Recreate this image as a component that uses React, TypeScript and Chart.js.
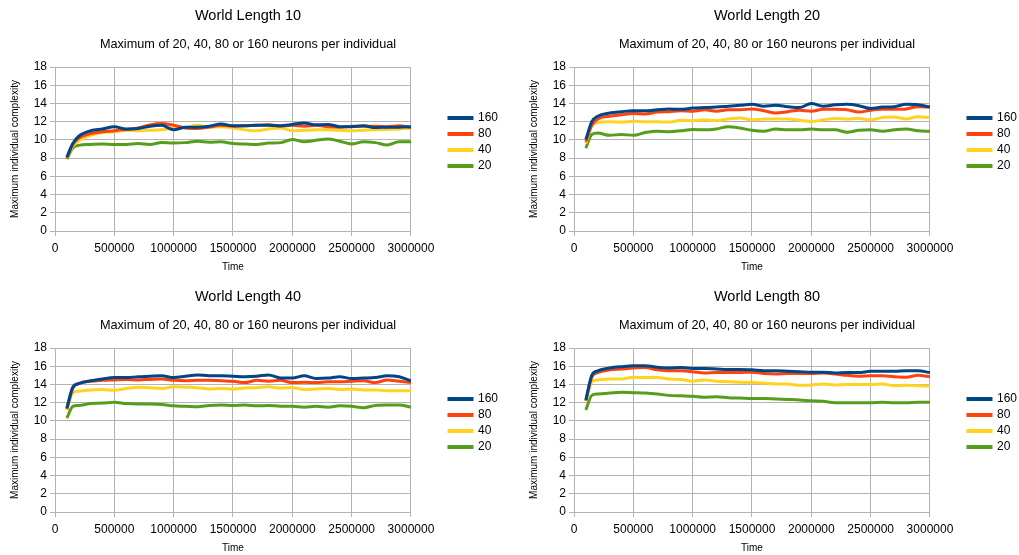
import React, { useEffect, useRef } from "react";
import { Chart, registerables } from "chart.js";

Chart.register(...registerables);

// ---------- data ----------
const TIMES = [
  100000, 150000, 200000, 300000, 400000, 500000, 600000, 700000, 800000, 900000,
  1000000, 1100000, 1200000, 1300000, 1400000, 1500000, 1600000, 1700000, 1800000,
  1900000, 2000000, 2100000, 2200000, 2300000, 2400000, 2500000, 2600000, 2700000,
  2800000, 2900000, 3000000,
];

const SERIES_LABELS = ["160", "80", "40", "20"];
const SERIES_COLORS = ["#004586", "#ff420e", "#ffd320", "#579d1c"];
const PANEL_TITLES = ["World Length 10", "World Length 20", "World Length 40", "World Length 80"];
const SUBTITLE = "Maximum of 20, 40, 80 or 160 neurons per individual";
const X_AXIS_TITLE = "Time";
const Y_AXIS_TITLE = "Maximum individual complexity";

// World Length 10
const WL10_160 = [8.1, 9.6, 10.4, 11.0, 11.2, 11.45, 11.2, 11.25, 11.5, 11.6, 11.1, 11.4, 11.4, 11.5, 11.75, 11.55, 11.55, 11.6, 11.6, 11.55, 11.7, 11.85, 11.65, 11.7, 11.45, 11.45, 11.55, 11.35, 11.4, 11.4, 11.45];
const WL10_80 = [8.0, 9.5, 10.2, 10.7, 10.9, 11.0, 11.15, 11.3, 11.65, 11.8, 11.6, 11.3, 11.25, 11.4, 11.6, 11.5, 11.55, 11.6, 11.65, 11.5, 11.6, 11.5, 11.6, 11.45, 11.4, 11.5, 11.5, 11.5, 11.45, 11.55, 11.35];
const WL10_40 = [8.0, 9.3, 9.9, 10.5, 10.8, 10.9, 11.05, 11.0, 11.05, 11.1, 11.3, 11.35, 11.6, 11.4, 11.45, 11.3, 11.1, 11.0, 11.2, 11.3, 11.0, 11.05, 11.1, 11.1, 11.05, 11.0, 11.05, 11.1, 11.15, 11.2, 11.3];
const WL10_20 = [7.9, 9.1, 9.4, 9.5, 9.55, 9.5, 9.5, 9.6, 9.5, 9.7, 9.65, 9.7, 9.85, 9.75, 9.8, 9.6, 9.55, 9.5, 9.65, 9.7, 10.05, 9.8, 9.95, 10.1, 9.85, 9.55, 9.8, 9.7, 9.45, 9.8, 9.8];

// World Length 20
const WL20_160 = [10.05, 12.0, 12.6, 12.95, 13.1, 13.2, 13.2, 13.3, 13.4, 13.35, 13.5, 13.55, 13.6, 13.7, 13.8, 13.9, 13.7, 13.8, 13.65, 13.55, 14.0, 13.7, 13.85, 13.9, 13.75, 13.45, 13.6, 13.65, 13.9, 13.85, 13.6];
const WL20_80 = [9.8, 11.6, 12.3, 12.6, 12.75, 12.9, 12.85, 13.05, 13.1, 13.2, 13.15, 13.3, 13.15, 13.3, 13.3, 13.4, 13.2, 12.95, 13.1, 13.25, 13.15, 13.35, 13.35, 13.3, 13.05, 13.25, 13.35, 13.35, 13.4, 13.65, 13.6];
const WL20_40 = [9.6, 11.6, 11.9, 12.0, 11.95, 12.05, 12.0, 12.0, 11.95, 12.15, 12.1, 12.2, 12.1, 12.3, 12.4, 12.2, 12.3, 12.3, 12.3, 12.15, 12.0, 12.2, 12.35, 12.3, 12.35, 12.2, 12.45, 12.5, 12.3, 12.55, 12.45];
const WL20_20 = [9.1, 10.6, 10.75, 10.5, 10.6, 10.5, 10.8, 10.95, 10.9, 11.0, 11.15, 11.1, 11.2, 11.45, 11.3, 11.05, 10.95, 11.2, 11.1, 11.1, 11.2, 11.1, 11.1, 10.85, 11.05, 11.1, 10.95, 11.1, 11.2, 11.0, 10.95];

// World Length 40
const WL40_160 = [11.4, 13.7, 14.1, 14.4, 14.6, 14.75, 14.75, 14.85, 14.9, 14.95, 14.75, 14.9, 15.05, 14.95, 14.95, 14.9, 14.85, 14.9, 15.05, 14.7, 14.7, 14.95, 14.65, 14.7, 14.85, 14.65, 14.7, 14.75, 14.95, 14.85, 14.4];
const WL40_80 = [11.3, 13.6, 14.1, 14.35, 14.45, 14.5, 14.55, 14.5, 14.55, 14.6, 14.45, 14.4, 14.45, 14.45, 14.4, 14.35, 14.2, 14.45, 14.35, 14.45, 14.2, 14.25, 14.2, 14.3, 14.3, 14.35, 14.4, 14.2, 14.5, 14.35, 14.2];
const WL40_40 = [11.2, 13.1, 13.25, 13.4, 13.45, 13.35, 13.55, 13.7, 13.65, 13.55, 13.75, 13.7, 13.65, 13.5, 13.55, 13.5, 13.6, 13.65, 13.75, 13.6, 13.65, 13.45, 13.5, 13.55, 13.45, 13.5, 13.4, 13.4, 13.3, 13.3, 13.3];
const WL40_20 = [10.3, 11.6, 11.7, 11.9, 11.95, 12.05, 11.9, 11.85, 11.85, 11.8, 11.65, 11.6, 11.55, 11.7, 11.75, 11.7, 11.75, 11.65, 11.7, 11.6, 11.6, 11.5, 11.6, 11.5, 11.65, 11.6, 11.45, 11.7, 11.75, 11.75, 11.5];

// World Length 80
const WL80_160 = [12.3, 15.0, 15.5, 15.8, 15.95, 16.05, 16.05, 15.9, 15.8, 15.85, 15.75, 15.75, 15.7, 15.65, 15.65, 15.6, 15.5, 15.5, 15.45, 15.4, 15.35, 15.35, 15.25, 15.3, 15.3, 15.45, 15.45, 15.45, 15.5, 15.5, 15.3];
const WL80_80 = [12.2, 14.8, 15.3, 15.6, 15.7, 15.8, 15.85, 15.6, 15.5, 15.5, 15.4, 15.25, 15.3, 15.3, 15.3, 15.35, 15.2, 15.15, 15.2, 15.2, 15.2, 15.25, 15.15, 15.0, 14.9, 14.95, 14.95, 14.85, 14.8, 15.0, 14.85];
const WL80_40 = [12.2, 14.3, 14.5, 14.6, 14.6, 14.8, 14.75, 14.75, 14.6, 14.55, 14.35, 14.5, 14.35, 14.3, 14.25, 14.2, 14.15, 14.05, 14.05, 13.9, 13.95, 14.05, 13.95, 14.0, 14.0, 14.0, 14.05, 13.85, 13.9, 13.85, 13.8];
const WL80_20 = [11.2, 12.8, 12.95, 13.05, 13.15, 13.1, 13.05, 12.95, 12.8, 12.75, 12.7, 12.6, 12.65, 12.55, 12.5, 12.45, 12.45, 12.4, 12.35, 12.3, 12.2, 12.15, 12.0, 12.0, 12.0, 12.0, 12.05, 12.0, 12.0, 12.05, 12.05];

const PANEL_SERIES = [
  [WL10_160, WL10_80, WL10_40, WL10_20],
  [WL20_160, WL20_80, WL20_40, WL20_20],
  [WL40_160, WL40_80, WL40_40, WL40_20],
  [WL80_160, WL80_80, WL80_40, WL80_20],
];

const X_MIN = 0;
const X_MAX = 3000000;
const X_STEP = 500000;
const Y_MIN = 0;
const Y_MAX = 18;
const Y_STEP = 2;

// ---------- layout ----------
const CANVAS_W = 522;
const CANVAS_H = 275;
const PANEL_POS = [
  { left: -12, top: 0 },
  { left: 507, top: 0 },
  { left: -12, top: 281 },
  { left: 507, top: 281 },
];

const FONT = '"Liberation Sans", Arial, sans-serif';
const GRID = "#b3b3b3";

function Panel({ index }: { index: number }) {
  const ref = useRef<HTMLCanvasElement | null>(null);

  useEffect(() => {
    if (!ref.current) return;
    Chart.defaults.font.family = FONT;
    Chart.defaults.color = "#000";
    const series = PANEL_SERIES[index];
    const chart = new Chart(ref.current, {
      type: "line",
      data: {
        datasets: series.map((vals, i) => ({
          label: SERIES_LABELS[i],
          data: TIMES.map((t, j) => ({ x: t, y: vals[j] })),
          borderColor: SERIES_COLORS[i],
          backgroundColor: SERIES_COLORS[i],
          borderWidth: 3,
          pointRadius: 0,
          cubicInterpolationMode: "monotone" as const,
          xAxisID: "x",
          yAxisID: "y",
        })),
      },
      options: {
        animation: false,
        responsive: false,
        layout: { padding: { top: 0, left: 0, right: 2, bottom: 0 } },
        plugins: {
          title: {
            display: true,
            text: PANEL_TITLES[index],
            color: "#000",
            font: { size: 14.5, weight: "normal", family: FONT },
            padding: { top: 7.5, bottom: 7.5 },
          },
          subtitle: {
            display: true,
            text: SUBTITLE,
            color: "#000",
            font: { size: 12.7, weight: "normal", family: FONT },
            padding: { top: 4.5, bottom: 14.86 },
          },
          legend: {
            display: true,
            position: "right",
            align: "start",
            title: {
              display: true,
              text: "",
              font: { size: 12 },
              padding: { top: 93.6, bottom: 0 },
            },
            labels: {
              boxWidth: 23,
              boxHeight: 1,
              padding: 4,
              color: "#000",
              font: { size: 12, family: FONT },
            },
          },
          tooltip: { enabled: false },
        },
        scales: {
          x: {
            type: "linear",
            position: "bottom",
            min: X_MIN,
            max: X_MAX,
            ticks: {
              stepSize: X_STEP,
              autoSkip: false,
              maxRotation: 0,
              padding: 5,
              color: "#000",
              font: { size: 12, family: FONT },
              callback: (v: any) => String(v),
            },
            grid: { color: GRID, tickLength: 5 },
            border: { color: GRID },
            title: {
              display: true,
              text: X_AXIS_TITLE,
              color: "#000",
              font: { size: 10, family: FONT },
              padding: { top: 0, bottom: 1.5 },
            },
            afterFit: (s: any) => {
              s.height = 44;
            },
          },
          y: {
            type: "linear",
            position: "left",
            min: Y_MIN,
            max: Y_MAX,
            ticks: {
              stepSize: Y_STEP,
              color: "#000",
              font: { size: 12, family: FONT },
            },
            grid: { color: GRID, tickLength: 5 },
            border: { color: GRID },
            title: {
              display: true,
              text: Y_AXIS_TITLE,
              color: "#000",
              font: { size: 10, family: FONT },
              padding: { top: 21, bottom: 0 },
            },
            afterFit: (s: any) => {
              s.width = 67;
            },
          },
          ghost: {
            type: "linear",
            position: "right",
            display: true,
            grid: { display: false },
            border: { display: false },
            ticks: { display: false },
            afterFit: (s: any) => {
              s.width = 34;
            },
          },
        },
      } as any,
    });
    return () => chart.destroy();
  }, [index]);

  const pos = PANEL_POS[index];
  return (
    <canvas
      ref={ref}
      width={CANVAS_W}
      height={CANVAS_H}
      style={{
        position: "absolute",
        left: pos.left,
        top: pos.top,
        width: CANVAS_W,
        height: CANVAS_H,
        display: "block",
      }}
    />
  );
}

export default function App() {
  return (
    <div
      style={{
        position: "fixed",
        left: 0,
        top: 0,
        width: 1019,
        height: 555,
        overflow: "hidden",
        background: "#fff",
      }}
    >
      {[0, 1, 2, 3].map((i) => (
        <Panel key={i} index={i} />
      ))}
    </div>
  );
}
